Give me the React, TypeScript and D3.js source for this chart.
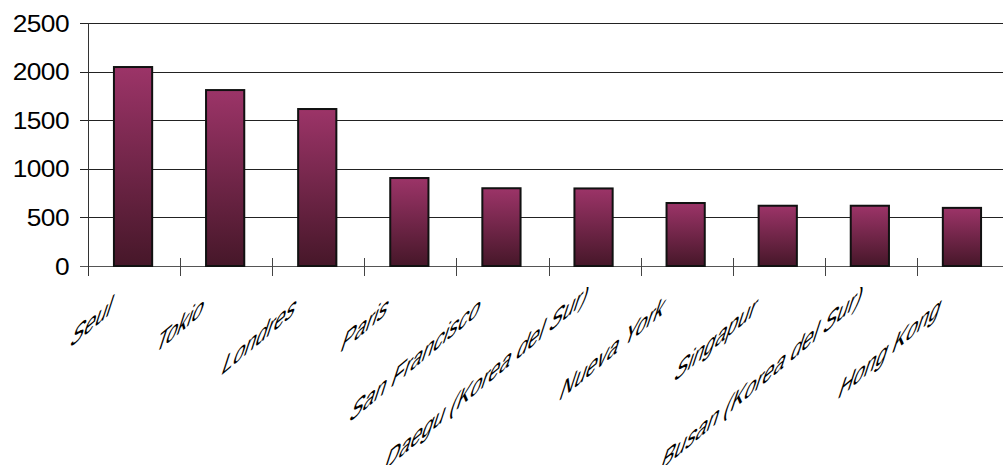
import React, { useEffect, useRef } from "react";
import * as d3 from "d3";

const categories = [
  "Seul",
  "Tokio",
  "Londres",
  "Paris",
  "San Francisco",
  "Daegu (Korea del Sur)",
  "Nueva York",
  "Singapur",
  "Busan (Korea del Sur)",
  "Hong Kong",
];
const values = [2047, 1810, 1615, 905, 800, 798, 648, 620, 620, 598];
const yTicks = [0, 500, 1000, 1500, 2000, 2500];

const W = 1003;
const H = 465;

export default function App() {
  const ref = useRef<SVGSVGElement>(null);

  useEffect(() => {
    const svg = d3.select(ref.current);
    svg.selectAll("*").remove();

    const left = 88;
    const top = 23;
    const bottom = 266;
    const x = d3.scaleBand<string>().domain(categories).range([left, left + 921]);
    const y = d3.scaleLinear().domain([0, 2500]).range([bottom, top]);
    const bw = x.bandwidth();
    const barW = bw * 0.415;

    const defs = svg.append("defs");
    const g = defs
      .append("linearGradient")
      .attr("id", "barGrad")
      .attr("x1", 0)
      .attr("y1", 0)
      .attr("x2", 0)
      .attr("y2", 1);
    g.append("stop").attr("offset", "0%").attr("stop-color", "#9c3468");
    g.append("stop").attr("offset", "100%").attr("stop-color", "#461729");

    defs
      .append("clipPath")
      .attr("id", "labClip")
      .append("rect")
      .attr("x", 0)
      .attr("y", 287)
      .attr("width", W)
      .attr("height", H - 287);

    // gridlines
    svg
      .append("g")
      .selectAll("line")
      .data(yTicks)
      .join("line")
      .attr("x1", left - 8)
      .attr("x2", W)
      .attr("y1", (d) => Math.round(y(d)) + 0.5)
      .attr("y2", (d) => Math.round(y(d)) + 0.5)
      .attr("stroke", (d) => (d === 0 ? "#555" : "#222"))
      .attr("stroke-width", 1);

    // y axis
    svg
      .append("line")
      .attr("x1", left + 0.5)
      .attr("x2", left + 0.5)
      .attr("y1", top)
      .attr("y2", bottom + 10)
      .attr("stroke", "#333");

    // category ticks
    svg
      .append("g")
      .selectAll("line")
      .data(categories.slice(1))
      .join("line")
      .attr("x1", (d) => Math.round(x(d)!) + 0.5)
      .attr("x2", (d) => Math.round(x(d)!) + 0.5)
      .attr("y1", bottom - 8)
      .attr("y2", bottom + 10)
      .attr("stroke", "#444");

    // y labels
    svg
      .append("g")
      .selectAll("text")
      .data(yTicks)
      .join("text")
      .attr("transform", (d) => `translate(69,${y(d) + 8.5}) scale(1.12,1)`)
      .attr("text-anchor", "end")
      .attr("font-family", "'Liberation Sans', Arial, sans-serif")
      .attr("font-size", 23.5)
      .attr("letter-spacing", -0.5)
      .attr("fill", "#000")
      .text((d) => d);

    // bars
    svg
      .append("g")
      .selectAll("rect")
      .data(categories)
      .join("rect")
      .attr("x", (d) => x(d)! + (bw - barW) / 2 - 1)
      .attr("y", (d, i) => y(values[i]))
      .attr("width", barW)
      .attr("height", (d, i) => bottom - y(values[i]))
      .attr("fill", "url(#barGrad)")
      .attr("stroke", "#111")
      .attr("stroke-width", 2);

    // category labels
    const a = (40 * Math.PI) / 180;
    const b = (72 * Math.PI) / 180;
    const sy = 1.22;
    const m = [Math.cos(a), -Math.sin(a), -Math.cos(b) * sy, Math.sin(b) * sy];
    const lg = svg.append("g").attr("clip-path", "url(#labClip)");
    categories.forEach((c) => {
      const cx = x(c)! + bw / 2;
      let ex = cx - 25;
      let ey = 315;
      const t = lg
        .append("text")
        .attr("font-family", "'Liberation Sans', Arial, sans-serif")
        .attr("font-size", 26.5)
        .attr("text-anchor", "end")
        .attr("fill", "#000")
        .text(c);
      const L = (t.node() as SVGTextElement).getComputedTextLength();
      const startY = ey + L * Math.sin(a);
      if (startY > 472) {
        const s = (startY - 472) / Math.sin(a);
        ex += s * Math.cos(a);
        ey -= s * Math.sin(a);
      }
      t.attr("transform", `translate(${ex},${ey}) matrix(${m.join(",")},0,0)`);
    });
  }, []);

  return (
    <svg
      ref={ref}
      width={W}
      height={H}
      style={{ position: "absolute", left: 0, top: 0, background: "#fff" }}
    />
  );
}
